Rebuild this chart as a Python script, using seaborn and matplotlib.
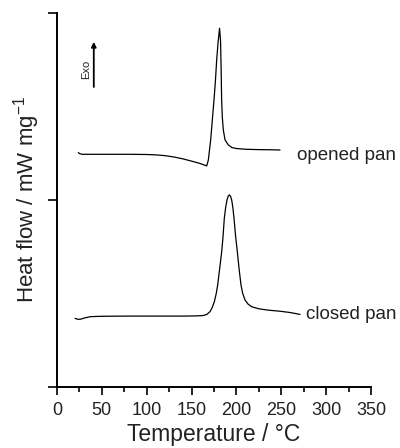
import numpy as np
import pandas as pd
import matplotlib
matplotlib.use("Agg")
import matplotlib.pyplot as plt
from matplotlib.ticker import MultipleLocator, NullFormatter
import seaborn as sns

# Opened pan DSC trace (temperature in °C, heat flow in arbitrary offset units)
opened_T = [23.7, 25.5, 28, 40, 60, 80, 100, 110, 120, 130, 140, 148, 155, 160, 164,
            166.9, 168.7, 171.3, 173, 175, 176.5, 178, 179.5, 181.2,
            182.3, 183.0, 183.5, 184.3, 185.4, 187.3, 191, 195, 200, 210, 225, 240, 248.6]
opened_Q = [1.253, 1.247, 1.244, 1.244, 1.244, 1.244, 1.243, 1.241, 1.237, 1.230, 1.220, 1.210, 1.201, 1.194, 1.187,
            1.182, 1.214, 1.321, 1.42, 1.535, 1.63, 1.749, 1.84, 1.918,
            1.85, 1.69, 1.535, 1.44, 1.374, 1.321, 1.294, 1.280, 1.275, 1.271, 1.269, 1.268, 1.267]

# Closed pan DSC trace
closed_T = [20.1, 23, 26, 30, 37, 50, 80, 110, 140, 155, 163, 167, 170.6, 173, 175.4, 177.5, 179.1,
            181, 183.6, 185, 186.5, 188, 189.5, 190.8, 192.1, 193.4, 194.7, 196, 197.3, 199, 201,
            203, 205.1, 207, 209.6, 213, 217, 225, 235, 248.6, 260, 270.9]
closed_Q = [0.367, 0.362, 0.362, 0.368, 0.376, 0.378, 0.379, 0.379, 0.379, 0.380, 0.382, 0.388, 0.403, 0.425,
            0.456, 0.50, 0.545, 0.62, 0.724, 0.80, 0.902, 0.96, 1.0, 1.02, 1.027, 1.02, 1.0, 0.96, 0.902,
            0.81, 0.724, 0.63, 0.545, 0.50, 0.465, 0.443, 0.429, 0.418, 0.411, 0.405, 0.398, 0.388]

labels = ["opened pan", "closed pan"]
x_ticks = [0, 50, 100, 150, 200, 250, 300, 350]
y_ticks = [0, 1, 2]

df = pd.concat([
    pd.DataFrame({"T": opened_T, "Q": opened_Q, "pan": labels[0]}),
    pd.DataFrame({"T": closed_T, "Q": closed_Q, "pan": labels[1]}),
])

sns.set_theme(style="ticks")
plt.rcParams["font.family"] = ["Liberation Sans", "DejaVu Sans"]
plt.rcParams["mathtext.fontset"] = "custom"
plt.rcParams["mathtext.rm"] = "Liberation Sans"

fig = plt.figure(figsize=(4.0, 4.48), dpi=100)
ax = fig.add_axes([0.1425, 0.1362, 0.785, 0.835])

sns.lineplot(data=df, x="T", y="Q", units="pan", estimator=None, sort=False,
             color="black", linewidth=0.9, ax=ax, legend=False)

ax.set_xlim(0, 350)
ax.set_ylim(0, 2)
ax.set_xticks(x_ticks)
ax.xaxis.set_minor_locator(MultipleLocator(25))
ax.set_yticks(y_ticks)
ax.yaxis.set_major_formatter(NullFormatter())
ax.tick_params(axis="x", which="major", direction="out", length=6, width=1.2,
               labelsize=13, pad=5, color="black", labelcolor="#222222")
ax.tick_params(axis="x", which="minor", direction="out", length=3.5, width=1.2, color="black")
ax.tick_params(axis="y", which="major", direction="out", length=6.5, width=1.2, color="black")

for s in ["top", "right"]:
    ax.spines[s].set_visible(False)
for s in ["left", "bottom"]:
    ax.spines[s].set_linewidth(1.4)
    ax.spines[s].set_color("black")

ax.set_xlabel("Temperature / °C", fontsize=16.5, color="#222222", labelpad=3)
ax.set_ylabel("Heat flow / mW mg$^{-1}$", fontsize=16, color="#222222", labelpad=1)

ax.text(267.2, 1.24, labels[0], fontsize=13.5, va="center", ha="left", color="#222222")
ax.text(277.6, 0.385, labels[1], fontsize=13.5, va="center", ha="left", color="#222222")

ax.annotate("", xy=(41, 1.845), xytext=(41, 1.604),
            arrowprops=dict(arrowstyle="-|>", color="black", lw=1.3,
                            mutation_scale=7, shrinkA=0, shrinkB=0))
ax.text(32, 1.70, "Exo", rotation=90, fontsize=8, ha="center", va="center", color="#222222")

fig.savefig("out.png", dpi=100)
